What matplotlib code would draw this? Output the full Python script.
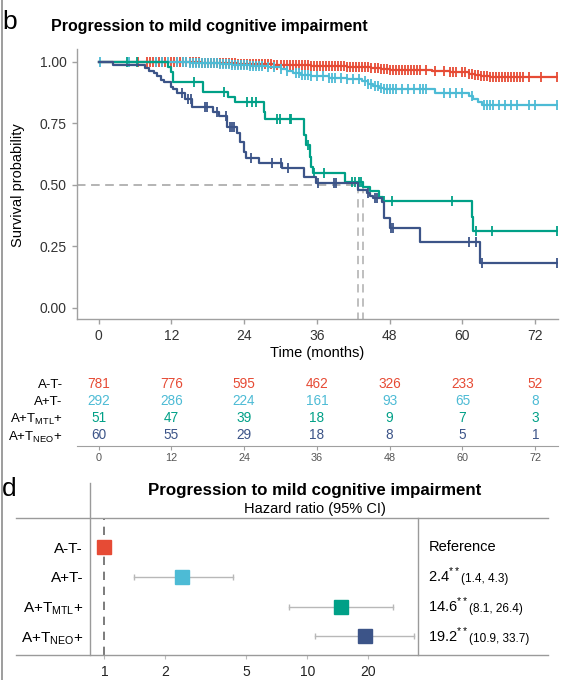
import numpy as np
import matplotlib.pyplot as plt
from matplotlib.lines import Line2D
from matplotlib import transforms
from matplotlib.ticker import NullLocator

plt.rcParams['font.family'] = ['Liberation Sans', 'DejaVu Sans']
plt.rcParams['mathtext.fontset'] = 'custom'
plt.rcParams['mathtext.rm'] = 'Liberation Sans'

# Kaplan-Meier curves: step times (months) and survival after each step
att_t = [0, 12.5, 17, 20, 23, 26, 29, 32, 35, 38, 41, 43, 45, 46.5, 48, 55, 58, 61, 62, 63, 64.5]
att_s = [1.0, 0.998, 0.996, 0.994, 0.992, 0.990, 0.988, 0.986, 0.984, 0.982, 0.980, 0.978,
         0.974, 0.970, 0.966, 0.961, 0.957, 0.952, 0.946, 0.941, 0.937]
att_cens = [6.5, 8, 8.5, 9, 9.5, 10, 10.5, 11, 12, 12.5, 13, 13.5, 14, 14.5, 15, 15.5, 16, 16.5,
            17, 17.5, 18, 18.5, 19, 19.5, 20, 20.5, 21, 21.5, 22, 22.5, 23, 23.5, 24, 24.5, 25,
            25.5, 26, 26.5, 27, 27.5, 28, 28.5, 29, 29.5, 30, 30.5, 31, 31.5, 32, 32.5, 33, 33.5,
            34, 34.5, 35, 35.5, 36, 36.5, 37, 37.5, 38, 38.5, 39, 39.5, 40, 40.5, 41, 41.5, 42,
            42.5, 43, 43.5, 44, 44.5, 45, 45.5, 46, 46.5, 47, 47.5, 48, 48.5, 49, 49.5, 50, 50.5,
            51, 51.5, 52, 52.5, 53, 54, 55.5, 57, 58, 58.5, 59, 60, 60.5, 61, 61.5, 62, 62.5, 63,
            63.5, 64, 64.5, 65, 65.5, 66, 66.5, 67, 67.5, 68, 68.5, 69, 69.5, 70, 71, 73, 75.6]

apt_t = [0, 15, 17, 20, 22, 25, 28, 30, 31, 32, 33.3, 35, 38, 41, 43.5, 44.5, 45.3, 46.2, 47,
         55.5, 61, 61.8, 62.5, 63.2]
apt_s = [1.0, 0.996, 0.993, 0.990, 0.987, 0.983, 0.978, 0.970, 0.962, 0.953, 0.946, 0.940,
         0.935, 0.930, 0.920, 0.910, 0.900, 0.893, 0.888, 0.872, 0.860, 0.848, 0.836, 0.824]
apt_cens = [0.3, 5, 9.5, 10.5, 11.5, 13, 14, 14.5, 15, 15.5, 16, 16.5, 17, 17.5, 18, 18.5, 19,
            19.5, 20, 20.5, 21, 21.5, 22, 22.5, 23, 23.5, 24, 24.5, 25, 25.5, 26, 26.5, 27, 28,
            29, 30, 31, 32.5, 33, 33.5, 34, 34.5, 35, 36, 37, 38, 38.5, 39, 40, 41, 42, 43,
            44, 44.5, 45, 45.5, 46, 46.5, 47, 47.5, 48, 48.5, 49, 50, 51, 52, 53, 53.5, 54, 57,
            58, 59, 60, 61.5, 63.5, 64, 64.5, 65, 66, 67, 68, 69, 71, 72, 75.6]

mtl_t = [0, 11.4, 12.0, 12.3, 17.3, 21.4, 22.5, 27.2, 27.5, 33.9, 34.2, 34.9, 35.1, 35.4, 40.6,
         43.6, 44.8, 46.3, 46.9, 61.5, 61.8]
mtl_s = [1.0, 0.980, 0.960, 0.919, 0.878, 0.858, 0.835, 0.797, 0.767, 0.702, 0.661, 0.614,
         0.573, 0.546, 0.512, 0.489, 0.476, 0.451, 0.434, 0.370, 0.312]
mtl_cens = [4.7, 6.3, 15.7, 20.7, 24.4, 25.3, 26.0, 29.5, 29.9, 31.5, 31.8, 34.5, 35.6, 37.2,
            41.8, 42.3, 42.9, 43.3, 47.0, 48.4, 58.2, 62.3, 64.9, 75.6]

neo_t = [0, 2.4, 7.7, 8.4, 9.1, 9.6, 10.3, 10.8, 12.0, 12.3, 12.9, 14.3, 15.4, 18.9, 19.8, 21.2,
         22.8, 23.3, 23.9, 24.3, 26.4, 30.2, 33.8, 35.9, 42.8, 44.2, 44.8, 45.3, 46.7, 47.1,
         48.1, 53.0, 62.9]
neo_s = [1.0, 0.987, 0.973, 0.963, 0.953, 0.942, 0.926, 0.916, 0.898, 0.888, 0.874, 0.847,
         0.817, 0.797, 0.779, 0.733, 0.711, 0.675, 0.634, 0.607, 0.587, 0.567, 0.533, 0.506,
         0.478, 0.468, 0.454, 0.445, 0.431, 0.363, 0.323, 0.268, 0.180]
neo_cens = [13.7, 14.8, 15.2, 17.5, 17.8, 19.6, 21.0, 21.6, 22.0, 22.4, 25.2, 28.6, 30.0, 31.2,
            36.1, 38.8, 39.1, 44.5, 45.6, 45.9, 48.3, 48.6, 61.1, 62.2, 63.2, 75.6]

# numbers at risk
risk_times = [0, 12, 24, 36, 48, 60, 72]
risk_att = [781, 776, 595, 462, 326, 233, 52]
risk_apt = [292, 286, 224, 161, 93, 65, 8]
risk_mtl = [51, 47, 39, 18, 9, 7, 3]
risk_neo = [60, 55, 29, 18, 8, 5, 1]

# hazard ratios
hr = [1.0, 2.4, 14.6, 19.2]
hr_lo = [np.nan, 1.4, 8.1, 10.9]
hr_hi = [np.nan, 4.3, 26.4, 33.7]

groups = ['A-T-', 'A+T-', 'A+T$_{\\mathregular{MTL}}$+', 'A+T$_{\\mathregular{NEO}}$+']
colors = ['#E64B35', '#4DBBD5', '#00A087', '#3C5488']

W, H = 568, 680
fig = plt.figure(figsize=(W / 100, H / 100), dpi=100)


def box(l, t, r, b):
    return [l / W, 1 - b / H, (r - l) / W, (b - t) / H]


def fline(xs, ys, **kw):
    fig.add_artist(Line2D([x / W for x in xs], [1 - y / H for y in ys],
                          transform=fig.transFigure, **kw))


def ftext(x, y, s, **kw):
    return fig.text(x / W, 1 - y / H, s, **kw)


def surv_at(times, surv, t):
    idx = np.searchsorted(times, t, side='right') - 1
    return np.asarray(surv)[idx]


GRID = '#a0a0a0'
fline([1.5, 1.5], [0, H], color='#8c8c8c', lw=1.2)

# ---- panel b: Kaplan-Meier ----
ax = fig.add_axes(box(76.7, 49.4, 558.3, 319.3))
xmin, xmax = -3.6, 75.8
ymin, ymax = -0.047, 1.05
curves = [(att_t, att_s, att_cens), (apt_t, apt_s, apt_cens),
          (mtl_t, mtl_s, mtl_cens), (neo_t, neo_s, neo_cens)]

# median lines
for t, s, c in curves:
    s = np.asarray(s)
    if s.min() <= 0.5:
        med = np.asarray(t)[np.argmax(s <= 0.5)]
        ax.plot([xmin, med], [0.5, 0.5], color='#b4b4b4', lw=1.2, ls=(0, (5, 3.5)), zorder=1)
        ax.plot([med, med], [0.5, ymin], color='#b4b4b4', lw=1.2, ls=(0, (5, 3.5)), zorder=1)

for (t, s, c), col in zip(curves, colors):
    end = max(c)
    ax.step(np.append(t, end), np.append(s, s[-1]), where='post', color=col, lw=1.6, zorder=3)
    ax.plot(c, surv_at(t, s, c), ls='none', marker='|', ms=6.5, mew=1.3, color=col, zorder=3)

ax.set_xlim(xmin, xmax)
ax.set_ylim(ymin, ymax)
ax.set_xticks(risk_times)
ax.set_yticks([0, 0.25, 0.5, 0.75, 1.0])
ax.set_yticklabels(['0.00', '0.25', '0.50', '0.75', '1.00'])
for sp in ['top', 'right']:
    ax.spines[sp].set_visible(False)
for sp in ['left', 'bottom']:
    ax.spines[sp].set_color(GRID)
    ax.spines[sp].set_linewidth(1.0)
ax.tick_params(colors=GRID, labelcolor='#333333', labelsize=10, length=3.5, width=1)

ftext(2, 22, 'b', fontsize=19, va='center', ha='left')
ftext(51, 27, 'Progression to mild cognitive impairment', fontsize=11.5,
      fontweight='bold', va='center', ha='left')
ftext(317.5, 353, 'Time (months)', fontsize=10.5, ha='center', va='center')
ftext(18, 185, 'Survival probability', fontsize=10.5, ha='center', va='center', rotation=90)

# ---- risk table ----
rt = fig.add_axes(box(76.7, 372, 558.3, 446))
rt.set_xlim(xmin, xmax)
rt.set_ylim(3.634, -0.669)
for i, (vals, col) in enumerate(zip([risk_att, risk_apt, risk_mtl, risk_neo], colors)):
    for x, v in zip(risk_times, vals):
        rt.text(x, i, str(v), color=col, fontsize=9.8, ha='center', va='center')
rt.set_yticks(range(4))
rt.set_yticklabels(groups, fontsize=9.5)
rt.set_xticks(risk_times)
rt.tick_params(axis='y', length=0, pad=10)
rt.tick_params(axis='x', colors=GRID, labelcolor='#555555', labelsize=7.8, length=3, pad=2)
for sp in ['top', 'right', 'left']:
    rt.spines[sp].set_visible(False)
rt.spines['bottom'].set_color(GRID)

# ---- panel d: forest plot ----
fp = fig.add_axes(box(90, 518.3, 418.3, 655))
fp.set_xscale('log')
fp.set_xlim(0.85, 35.2)
fp.set_ylim(3.626, -0.976)
fp.axvline(1, color='#666666', lw=1.2, ls=(0, (5, 4)), zorder=1)
for i, (h, lo, hi, col) in enumerate(zip(hr, hr_lo, hr_hi, colors)):
    if not np.isnan(lo):
        fp.plot([lo, hi], [i, i], color='#b8b8b8', lw=1, zorder=2)
        fp.plot([lo, hi], [i, i], ls='none', marker='|', ms=4, mew=1, color='#b8b8b8', zorder=2)
    fp.plot(h, i, marker='s', ms=10, color=col, mec=col, zorder=3)
for sp in fp.spines.values():
    sp.set_visible(False)
fp.set_xticks([1, 2, 5, 10, 20])
fp.set_xticklabels(['1', '2', '5', '10', '20'])
fp.xaxis.set_minor_locator(NullLocator())
fp.tick_params(axis='x', colors='#bbbbbb', labelcolor='#222222', labelsize=10, length=3, pad=4)
fp.set_yticks(range(4))
fp.set_yticklabels(groups, fontsize=11)
fp.tick_params(axis='y', length=0, pad=5)

fline([16, 548], [518.3, 518.3], color='#9a9a9a', lw=1)
fline([16, 548], [655, 655], color='#9a9a9a', lw=1)
fline([90, 90], [483, 655], color='#9a9a9a', lw=1)
fline([418.3, 418.3], [518.3, 655], color='#9a9a9a', lw=1)

ftext(2, 489, 'd', fontsize=19, va='center', ha='left')
ftext(314.5, 490, 'Progression to mild cognitive impairment', fontsize=12.2,
      fontweight='bold', va='center', ha='center')
ftext(315, 509.3, 'Hazard ratio (95% CI)', fontsize=10.5, va='center', ha='center')

tr = transforms.blended_transform_factory(fig.transFigure, fp.transData)
for i, (h, lo, hi) in enumerate(zip(hr, hr_lo, hr_hi)):
    if np.isnan(lo):
        fp.text(428.3 / W, i, 'Reference', transform=tr, fontsize=10.5, va='center', ha='left')
    else:
        t1 = fp.text(428.3 / W, i - 0.05, f'{h:.1f}$^{{**}}$', transform=tr, fontsize=10.5,
                     va='center', ha='left')
        fp.annotate(f'({lo:.1f}, {hi:.1f})', xy=(1, 0), xycoords=t1, fontsize=8.5,
                    va='bottom', ha='left')

fig.savefig('out.png', dpi=100)
